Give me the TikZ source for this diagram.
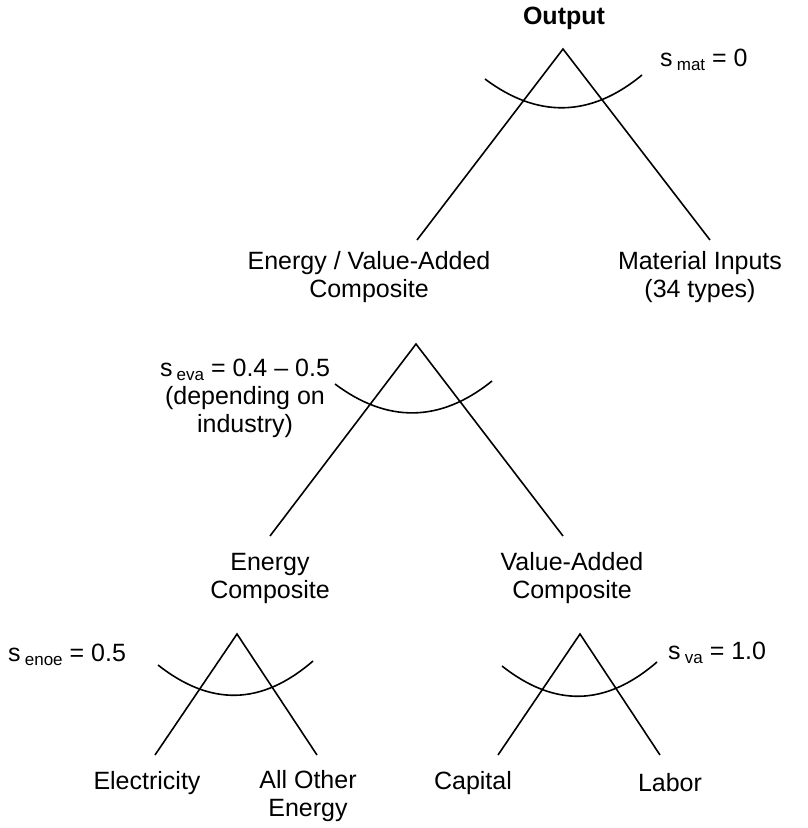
\documentclass[tikz,border=0pt]{standalone}
\usepackage{fontspec}
\setmainfont{Liberation Sans}
\newcommand{\elas}[1]{s\,\raisebox{-0.35ex}{\fontsize{17}{17}\selectfont #1}}
\begin{document}
\begin{tikzpicture}[x=1pt,y=-1pt,
    lbl/.style={align=center,font=\fontsize{25}{28}\selectfont,inner sep=0pt},
    leg/.style={line width=1.6pt},
    nest/.style={line width=1.6pt}]
    \useasboundingbox (0,0) rectangle (808,828);
    % top nest
    \node[lbl,font=\fontsize{25}{28}\selectfont\bfseries] (out) at (564,18) {Output};
    \coordinate (a1) at (563,49);
    \coordinate (f1l) at (417,240);
    \coordinate (f1r) at (710,240);
    \draw[leg] (f1l) -- (a1) -- (f1r);
    \draw[nest] (485,79) .. controls (537,118) and (590,118) .. (642,75);
    \node[lbl,anchor=west] (smat) at (660,60) {\elas{mat} = 0};
    \node[lbl] (eva) at (369,277) {Energy / Value-Added\\Composite};
    \node[lbl] (mat) at (700,277) {Material Inputs\\(34 types)};
    % energy / value-added nest
    \coordinate (a2) at (416,344);
    \coordinate (f2l) at (270,536);
    \coordinate (f2r) at (563,536);
    \draw[leg] (f2l) -- (a2) -- (f2r);
    \draw[nest] (335,384) .. controls (387,423) and (440,423) .. (492,381);
    \node[lbl] (seva) at (245,398) {\elas{eva} = 0.4 – 0.5\\(depending on\\industry)};
    \node[lbl] (en) at (270,578) {Energy\\Composite};
    \node[lbl] (va) at (572,578) {Value-Added\\Composite};
    % energy nest
    \coordinate (a3) at (237,634);
    \coordinate (f3l) at (155,755);
    \coordinate (f3r) at (317,755);
    \draw[leg] (f3l) -- (a3) -- (f3r);
    \draw[nest] (158,665) .. controls (210,706) and (261,706) .. (313,661);
    \node[lbl,anchor=west] (senoe) at (8,655) {\elas{enoe} = 0.5};
    \node[lbl] (elec) at (147,783) {Electricity};
    \node[lbl] (oth) at (308,796) {All Other\\Energy};
    % value-added nest
    \coordinate (a4) at (580,634);
    \coordinate (f4l) at (498,755);
    \coordinate (f4r) at (660,755);
    \draw[leg] (f4l) -- (a4) -- (f4r);
    \draw[nest] (502,666) .. controls (554,707) and (605,707) .. (657,662);
    \node[lbl,anchor=west] (sva) at (668,653) {\elas{va} = 1.0};
    \node[lbl] (cap) at (473,783) {Capital};
    \node[lbl] (lab) at (670,783) {Labor};
\end{tikzpicture}
\end{document}
